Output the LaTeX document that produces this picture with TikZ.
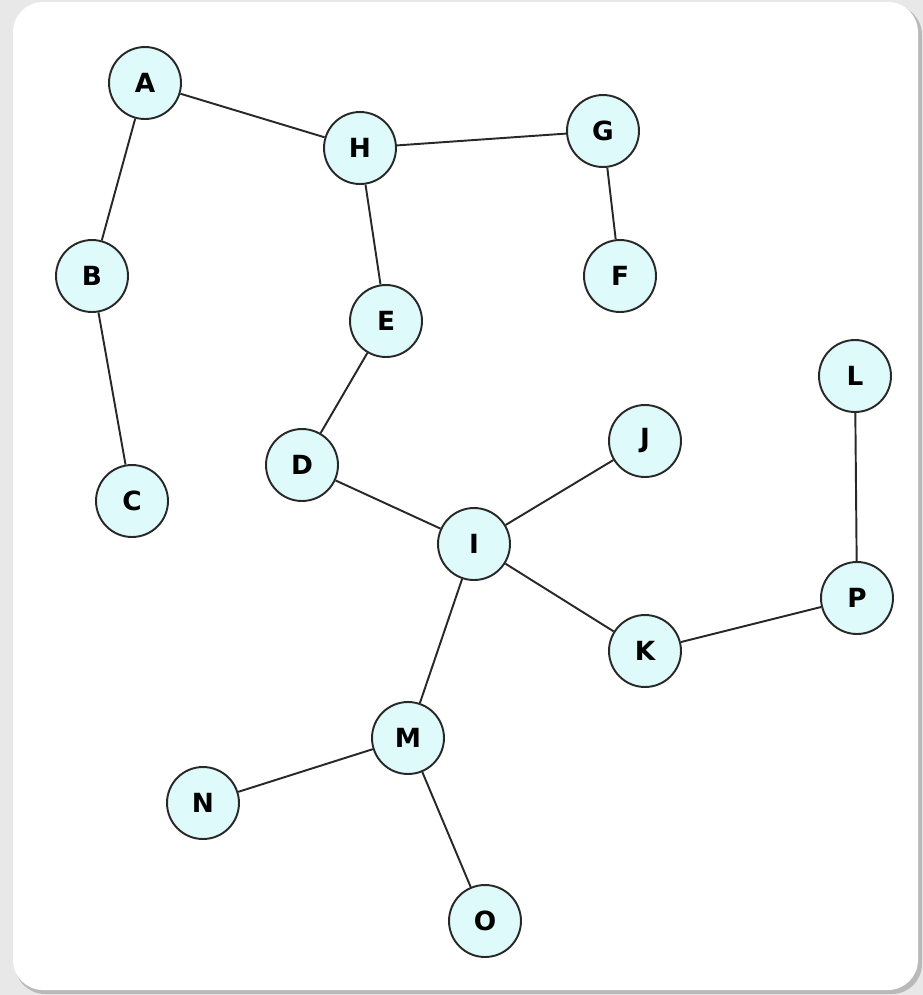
\documentclass[tikz,border=0pt]{standalone}
\usepackage{fontspec}
\setmainfont{DejaVu Sans}
\usepackage{xcolor}
\usepackage{tikz}
\usetikzlibrary{shapes, positioning}
\definecolor{nodefill}{RGB}{222,250,250}
\definecolor{edgegray}{RGB}{40,40,40}

\begin{document}
\begin{tikzpicture}[x=0.02cm, y=-0.02cm,
            vertex/.style={draw=edgegray, circle, line width=1.1pt, fill=nodefill, minimum size=1.44cm, inner sep=0pt, font=\fontsize{15}{17}\selectfont\bfseries},
            link/.style={draw=edgegray, line width=1.1pt}]
            % background panel
            \useasboundingbox (0,0) rectangle (923,995);
            \fill[gray!18] (0,0) rectangle (923,995);
            \fill[gray!55, rounded corners=0.6cm] (15,5) rectangle (922,994);
            \fill[white, rounded corners=0.6cm] (13,2) rectangle (918,990);

            \node[vertex] (A) at (145,83) {A};
            \node[vertex] (H) at (360,148) {H};
            \node[vertex] (G) at (603,131) {G};
            \node[vertex] (B) at (92,276) {B};
            \node[vertex] (F) at (620,276) {F};
            \node[vertex] (E) at (386,321) {E};
            \node[vertex] (L) at (855,376) {L};
            \node[vertex] (J) at (645,441) {J};
            \node[vertex] (D) at (302,465) {D};
            \node[vertex] (C) at (132,501) {C};
            \node[vertex] (I) at (474,544) {I};
            \node[vertex] (P) at (857,598) {P};
            \node[vertex] (K) at (645,651) {K};
            \node[vertex] (M) at (408,738) {M};
            \node[vertex] (N) at (203,803) {N};
            \node[vertex] (O) at (485,921) {O};

            \draw[link] (A) -- (H);
            \draw[link] (A) -- (B);
            \draw[link] (B) -- (C);
            \draw[link] (H) -- (G);
            \draw[link] (G) -- (F);
            \draw[link] (H) -- (E);
            \draw[link] (E) -- (D);
            \draw[link] (D) -- (I);
            \draw[link] (I) -- (J);
            \draw[link] (I) -- (K);
            \draw[link] (K) -- (P);
            \draw[link] (P) -- (L);
            \draw[link] (I) -- (M);
            \draw[link] (M) -- (N);
            \draw[link] (M) -- (O);
        \end{tikzpicture}
\end{document}
